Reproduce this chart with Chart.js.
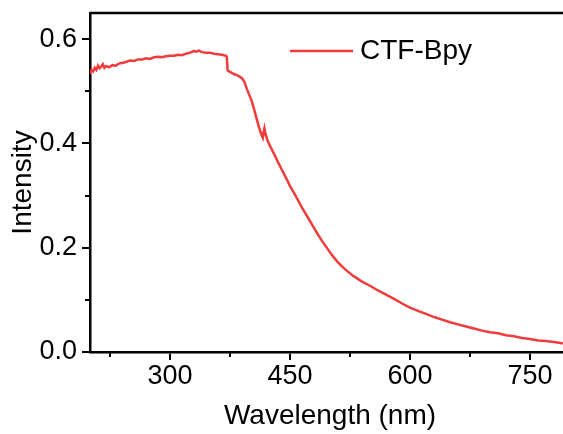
<!DOCTYPE html>
<html lang="en">
<head>
<meta charset="UTF-8">
<title>CTF-Bpy</title>
<style>
  html, body { margin: 0; padding: 0; background: #fff; overflow: hidden; }
  #wrap { width: 575px; height: 434px; }
</style>
</head>
<body>
<div id="wrap"><canvas id="myChart" width="575" height="434"></canvas></div>
<script src="https://cdn.jsdelivr.net/npm/chart.js"></script>
<script>
// wavelength (nm) and intensity
const wavelength = [200,202,204,206,208,210,212,214,216,218,220,224,228,232,236,240,245,250,255,260,265,270,275,280,285,290,295,300,305,310,315,320,325,330,333,336,340,345,350,355,360,365,370,371,372,375,380,385,390,393,396,399,402,405,408,411,414,416,417,418,419,422,426,430,435,440,445,450,455,460,465,470,475,480,485,490,495,500,505,510,515,520,530,540,550,560,570,580,590,600,610,620,630,640,650,660,670,680,690,700,710,720,730,740,750,760,770,780,790,800];
const intensity = [0.533,0.541,0.538,0.545,0.541,0.549,0.544,0.547,0.552,0.545,0.548,0.546,0.550,0.549,0.553,0.554,0.556,0.559,0.558,0.561,0.561,0.563,0.562,0.565,0.566,0.565,0.567,0.568,0.568,0.570,0.569,0.572,0.574,0.577,0.576,0.578,0.575,0.574,0.574,0.572,0.571,0.570,0.568,0.566,0.540,0.537,0.533,0.530,0.525,0.518,0.505,0.493,0.482,0.466,0.449,0.432,0.418,0.411,0.422,0.429,0.420,0.405,0.392,0.380,0.364,0.349,0.334,0.318,0.305,0.291,0.277,0.264,0.251,0.238,0.225,0.213,0.202,0.191,0.181,0.172,0.164,0.157,0.145,0.135,0.127,0.118,0.110,0.102,0.093,0.085,0.079,0.073,0.067,0.062,0.057,0.053,0.049,0.045,0.041,0.038,0.036,0.032,0.030,0.027,0.025,0.022,0.021,0.019,0.017,0.016];
const seriesName = 'CTF-Bpy';

const xMajor = [300, 450, 600, 750];
const xMinor = [225, 375, 525, 675];
const yMajor = [0, 0.2, 0.4, 0.6];
const yMinor = [0.1, 0.3, 0.5];

const lineColor = '#f03c3c';
const font = 'Liberation Sans, Arial, sans-serif';

// minor ticks, top/right frame and the legend
const extras = {
  id: 'extras',
  afterDraw(chart) {
    const c = chart.ctx;
    const a = chart.chartArea;
    const xs = chart.scales.x, ys = chart.scales.y;
    c.save();
    c.strokeStyle = '#000';
    c.lineWidth = 2;
    xMinor.forEach(v => {
      const px = Math.round(xs.getPixelForValue(v));
      c.beginPath(); c.moveTo(px, a.bottom); c.lineTo(px, a.bottom + 5); c.stroke();
    });
    yMinor.forEach(v => {
      const py = Math.round(ys.getPixelForValue(v));
      c.beginPath(); c.moveTo(a.left, py); c.lineTo(a.left - 5, py); c.stroke();
    });
    c.lineWidth = 2.5;
    c.beginPath();
    c.moveTo(a.left, a.top); c.lineTo(a.right, a.top); c.lineTo(a.right, a.bottom);
    c.stroke();

    // legend
    const ly = 51;
    c.strokeStyle = lineColor;
    c.lineWidth = 2.5;
    c.beginPath(); c.moveTo(290, ly); c.lineTo(353, ly); c.stroke();
    c.fillStyle = '#000';
    c.font = '28px ' + font;
    c.textBaseline = 'middle';
    c.textAlign = 'left';
    c.fillText(chart.data.datasets[0].label, 360, ly);
    c.restore();
  }
};

new Chart(document.getElementById('myChart'), {
  type: 'line',
  data: {
    datasets: [{
      label: seriesName,
      data: wavelength.map((w, i) => ({ x: w, y: intensity[i] })),
      borderColor: lineColor,
      borderWidth: 2.5,
      pointRadius: 0,
      tension: 0,
      fill: false
    }]
  },
  options: {
    responsive: false,
    animation: false,
    layout: { padding: { top: 13, right: 5, left: 0, bottom: 0 } },
    plugins: { legend: { display: false }, tooltip: { enabled: false } },
    scales: {
      x: {
        type: 'linear',
        min: 200,
        max: 800,
        afterBuildTicks: s => { s.ticks = xMajor.map(v => ({ value: v })); },
        afterFit: s => { s.height = 82; s.paddingLeft = 0; s.paddingRight = 0; },
        grid: { drawOnChartArea: false, color: '#000', lineWidth: 2, tickLength: 8 },
        border: { color: '#000', width: 2.5 },
        ticks: { color: '#000', font: { family: font, size: 27 }, padding: 0, maxRotation: 0 },
        title: { display: true, text: 'Wavelength (nm)', color: '#000', font: { family: font, size: 28 }, padding: { top: 0, bottom: 1 } }
      },
      y: {
        min: 0,
        max: 0.65,
        afterBuildTicks: s => { s.ticks = yMajor.map(v => ({ value: v })); },
        afterFit: s => { s.width = 90; s.paddingTop = 0; s.paddingBottom = 0; },
        grid: { drawOnChartArea: false, color: '#000', lineWidth: 2, tickLength: 8 },
        border: { color: '#000', width: 2.5 },
        ticks: { color: '#000', font: { family: font, size: 27 }, padding: 5, callback: v => v.toFixed(1) },
        title: { display: true, text: 'Intensity', color: '#000', font: { family: font, size: 28 }, padding: { top: 6, bottom: 0 } }
      }
    }
  },
  plugins: [extras]
});
</script>
</body>
</html>
